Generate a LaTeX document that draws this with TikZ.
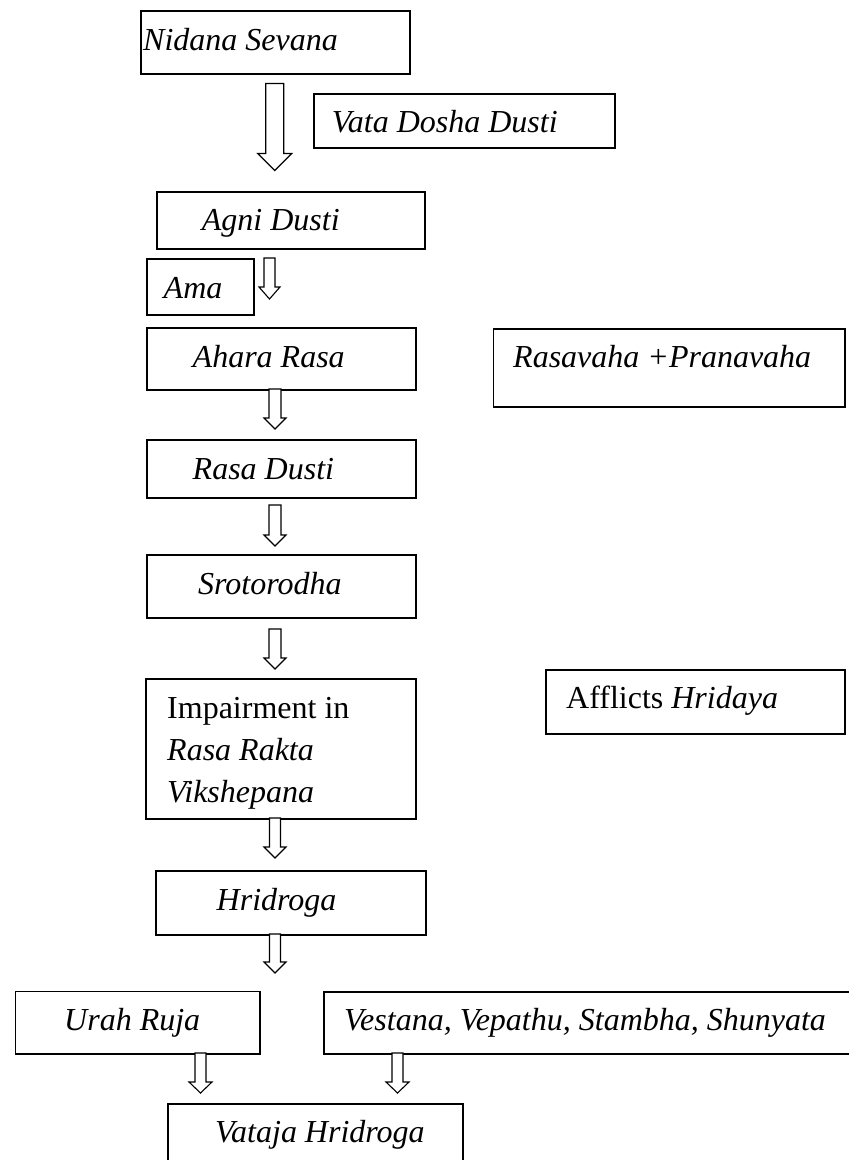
\documentclass[tikz,border=0pt]{standalone}
\usepackage{fontspec}
\setmainfont{Liberation Serif}
\usetikzlibrary{calc}
\newcommand\harrow[5]{%
  \draw[harrowline] ($(#1)+(-#3,0)$) -- ($(#2)+(-#3,-#5)$) -- ($(#2)+(-#4,-#5)$) -- (#2)
    -- ($(#2)+(#4,-#5)$) -- ($(#2)+(#3,-#5)$) -- ($(#1)+(#3,0)$) -- cycle;}
\begin{document}
\begin{tikzpicture}[x=1pt,y=-1pt,
  box/.style={draw, line width=1.5pt, anchor=north west, inner sep=0pt},
  txt/.style={anchor=base west, inner sep=0pt, font=\fontsize{32}{42}\selectfont\itshape},
  rtxt/.style={anchor=base west, inner sep=0pt, font=\fontsize{32}{42}\selectfont},
  harrowline/.style={draw, line width=1.1pt, fill=white, line join=miter}]
\useasboundingbox (0,0) rectangle (849,1160);
% boxes
\node[box, minimum width=269pt, minimum height=63pt] (nidana) at (140,10) {};
\node[box, minimum width=301pt, minimum height=54pt] (vata) at (313,93) {};
\node[box, minimum width=268pt, minimum height=57pt] (agni) at (156,191) {};
\node[box, minimum width=107pt, minimum height=56pt] (ama) at (146,258) {};
\node[box, minimum width=269pt, minimum height=62pt] (ahara) at (146,327) {};
\node[box, minimum width=351.5pt, minimum height=78pt] (rasavaha) at (492.5,328) {};
\node[box, minimum width=269pt, minimum height=58pt] (rasadusti) at (146,439) {};
\node[box, minimum width=269pt, minimum height=63pt] (sroto) at (146,554) {};
\node[box, minimum width=270pt, minimum height=140pt] (impair) at (145,678) {};
\node[box, minimum width=299pt, minimum height=64pt] (afflicts) at (545,669) {};
\node[box, minimum width=270pt, minimum height=64pt] (hridroga) at (155,870) {};
\node[box, minimum width=244.5pt, minimum height=62.5pt] (urah) at (14.6,990.5) {};
\node[box, minimum width=540pt, minimum height=62pt] (vestana) at (323,991) {};
\node[box, minimum width=295pt, minimum height=80pt] (vataja) at (167,1103) {};
% texts
\node[txt] (nidanaT) at (143,50) {Nidana Sevana};
\node[txt] (vataT) at (331.7,132) {Vata Dosha Dusti};
\node[txt] (agniT) at (201.7,230) {Agni Dusti};
\node[txt] (amaT) at (163.5,298) {Ama};
\node[txt] (aharaT) at (192.5,367) {Ahara Rasa};
\node[txt] (rasavahaT) at (513,367) {Rasavaha +Pranavaha};
\node[txt] (rasadustiT) at (192.5,479) {Rasa Dusti};
\node[txt] (srotoT) at (198,594) {Srotorodha};
\node[rtxt] (impairT1) at (167,718) {Impairment in};
\node[txt] (impairT2) at (167,760) {Rasa Rakta};
\node[txt] (impairT3) at (167,802) {Vikshepana};
\node[rtxt] (afflictsT) at (566,708) {Afflicts \textit{Hridaya}};
\node[txt] (hridrogaT) at (216.5,910) {Hridroga};
\node[txt] (urahT) at (64,1030) {Urah Ruja};
\node[txt] (vestanaT) at (344,1030) {Vestana, Vepathu, Stambha, Shunyata};
\node[txt] (vatajaT) at (215,1142) {Vataja Hridroga};
% arrow anchor points
\coordinate (a1s) at ($(nidana.south)+(-0.5,9)$);
\coordinate (a1e) at ($(a1s)+(0,87)$);
\coordinate (a2s) at (269.5,258);
\coordinate (a2e) at (269.5,299);
\coordinate (a3s) at (275,389);
\coordinate (a3e) at (275,429);
\coordinate (a4s) at (275,505);
\coordinate (a4e) at (275,546);
\coordinate (a5s) at (275,629);
\coordinate (a5e) at (275,669);
\coordinate (a6s) at (275,818);
\coordinate (a6e) at (275,858);
\coordinate (a7s) at (275,934);
\coordinate (a7e) at (275,973);
\coordinate (a8s) at (200.5,1053);
\coordinate (a8e) at (200.5,1093);
\coordinate (a9s) at (397.5,1053);
\coordinate (a9e) at (397.5,1093);
% hollow arrows
\harrow{a1s}{a1e}{9}{17}{17}
\harrow{a2s}{a2e}{5.5}{10.5}{12}
\harrow{a3s}{a3e}{6}{11}{11}
\harrow{a4s}{a4e}{6}{11}{11}
\harrow{a5s}{a5e}{6}{11}{11}
\harrow{a6s}{a6e}{5.5}{11}{11}
\harrow{a7s}{a7e}{5.5}{11}{11}
\harrow{a8s}{a8e}{5.5}{11.5}{11}
\harrow{a9s}{a9e}{5.5}{11.5}{11}
\end{tikzpicture}
\end{document}
